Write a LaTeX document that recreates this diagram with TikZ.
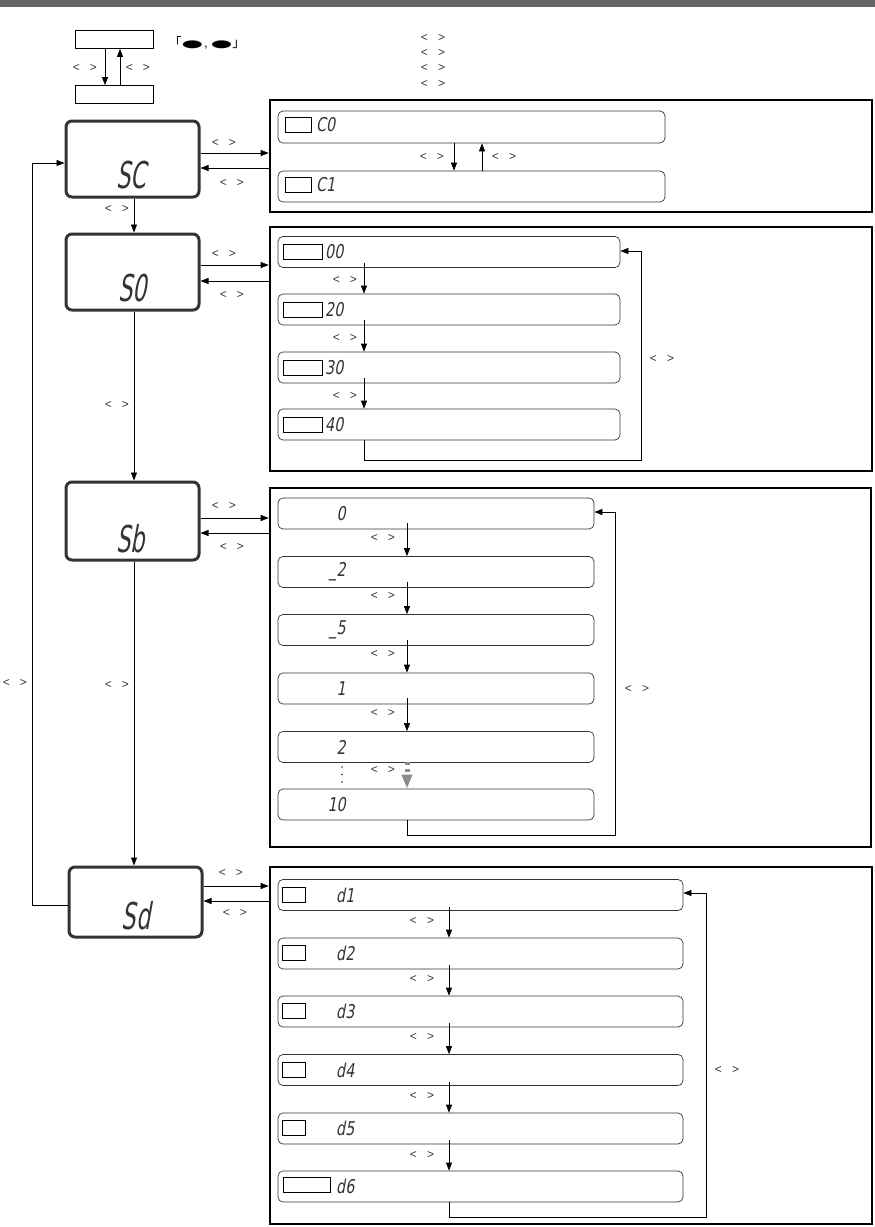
\documentclass[tikz,border=0pt]{standalone}
\usepackage{fontspec}
\setmainfont{Liberation Sans}
\newfontfamily\segbig{DejaVu Sans}[FakeSlant=0.18,FakeStretch=0.6]
\newfontfamily\segsmall{DejaVu Sans}[FakeSlant=0.18,FakeStretch=0.75]
\newfontfamily\cjkjp{Noto Sans CJK JP}
\newfontfamily\dvsans{DejaVu Sans}
\usetikzlibrary{arrows.meta,calc}
\definecolor{barg}{HTML}{666666}
\definecolor{boxg}{HTML}{333333}
\definecolor{dashg}{HTML}{8C8C8C}
\newcommand\myblob{\scalebox{1.9}[0.8]{\dvsans ●}}
\tikzset{
  mbox/.style={draw=boxg, line width=3pt, rounded corners=6pt, inner sep=0pt},
  panelbox/.style={draw=black, line width=2.6pt, inner sep=0pt},
  rowbox/.style={draw=boxg, line width=0.7pt, rounded corners=5pt, inner sep=0pt, minimum height=31pt},
  smallrect/.style={draw=black, line width=0.7pt, inner sep=0pt, minimum height=15pt},
  legbox/.style={draw=black, line width=0.8pt, inner sep=0pt, minimum width=78pt, minimum height=18pt},
  lbl/.style={font=\fontsize{12}{12}\selectfont, text=boxg, inner sep=0pt},
  bigseg/.style={font=\segbig\fontsize{37}{37}\selectfont, text=boxg, inner sep=0pt},
  smallseg/.style={font=\segsmall\fontsize{19}{19}\selectfont, text=boxg, inner sep=0pt},
  arr/.style={draw=black, line width=0.7pt, -{Triangle[length=8pt,width=6pt]}},
  ln/.style={draw=black, line width=0.7pt},
}
\newcommand\lt{<\hspace{10pt}>}
\begin{document}
\begin{tikzpicture}[x=1pt,y=-1pt]
\useasboundingbox (0,0) rectangle (875,1227);
\fill[barg] (0,0) rectangle (875,7);

% legend
\node[legbox] (lg1) at (114,39.5) {};
\node[legbox] (lg2) at (114,94.5) {};
\draw[arr] (lg1.south -| 105,0) -- (lg2.north -| 105,0);
\draw[arr] (lg2.north -| 120,0) -- (lg1.south -| 120,0);
\node[lbl] (lgl1) at (85,68) {\lt};
\node[lbl] (lgl2) at (138,68) {\lt};
\node[font=\fontsize{13}{13}\selectfont, inner sep=0pt] (brk) at (207,43) {{\cjkjp 「}\myblob\hspace{1pt},\hspace{3pt}\myblob{\cjkjp 」}};
\node[lbl] (tl1) at (433,38) {\lt};
\node[lbl] (tl2) at (433,53) {\lt};
\node[lbl] (tl3) at (433,68) {\lt};
\node[lbl] (tl4) at (433,84) {\lt};

% main boxes
\node[mbox, minimum width=133pt, minimum height=76pt] (sc) at (132.5,159) {};
\node[bigseg] (sct) at (131,175.5) {SC};
\node[mbox, minimum width=133pt, minimum height=76pt] (s0) at (132.5,272) {};
\node[bigseg] (s0t) at (133,288) {S0};
\node[mbox, minimum width=133pt, minimum height=78pt] (sb) at (132.5,521) {};
\node[bigseg] (sbt) at (130.5,539) {Sb};
\node[mbox, minimum width=133pt, minimum height=70pt] (sd) at (135.5,902) {};
\node[bigseg] (sdt) at (136,915.5) {Sd};

% panels
\node[panelbox, minimum width=602pt, minimum height=112pt] (p1) at (571,156) {};
\node[panelbox, minimum width=602pt, minimum height=244pt] (p2) at (571,349) {};
\node[panelbox, minimum width=601pt, minimum height=359pt] (p3) at (570.5,667.5) {};
\node[panelbox, minimum width=602pt, minimum height=357pt] (p4) at (571,1045.5) {};

% vertical flow
\draw[arr] (sc.south -| 134,0) -- (s0.north -| 134,0);
\draw[arr] (s0.south -| 134,0) -- (sb.north -| 134,0);
\draw[arr] (sb.south -| 134,0) -- (sd.north -| 134,0);
\node[lbl] (v1) at (117,209) {\lt};
\node[lbl] (v2) at (117,405) {\lt};
\node[lbl] (v3) at (117,685) {\lt};
\draw[arr] (sd.west |- 0,905) -- (32,905) -- (32,163) -- (sc.west |- 0,163);
\node[lbl] (v4) at (15,683) {\lt};

% box <-> panel arrows
\draw[arr] (sc.east |- 0,153) -- (p1.west |- 0,153);
\draw[arr] (p1.west |- 0,168) -- (sc.east |- 0,168);
\node[lbl] (h1) at (224,143) {\lt};
\node[lbl] (h2) at (232,183) {\lt};
\draw[arr] (s0.east |- 0,265) -- (p2.west |- 0,265);
\draw[arr] (p2.west |- 0,281) -- (s0.east |- 0,281);
\node[lbl] (h3) at (224,254) {\lt};
\node[lbl] (h4) at (232,295) {\lt};
\draw[arr] (sb.east |- 0,518) -- (p3.west |- 0,518);
\draw[arr] (p3.west |- 0,533) -- (sb.east |- 0,533);
\node[lbl] (h5) at (224,506) {\lt};
\node[lbl] (h6) at (232,547) {\lt};
\draw[arr] (sd.east |- 0,886) -- (p4.west |- 0,886);
\draw[arr] (p4.west |- 0,901) -- (sd.east |- 0,901);
\node[lbl] (h7) at (231,873) {\lt};
\node[lbl] (h8) at (235,913) {\lt};

% panel 1
\node[rowbox, minimum width=387pt, minimum height=32pt] (c0) at (471.5,127) {};
\node[rowbox, minimum width=387pt] (c1) at (471.5,186.5) {};
\node[smallrect, minimum width=26pt] (c0r) at (298,125) {};
\node[smallrect, minimum width=26pt] (c1r) at (298,185) {};
\node[smallseg, anchor=west] (c0t) at (316,125) {C0};
\node[smallseg, anchor=west] (c1t) at (316,185) {C1};
\draw[arr] (c0.south -| 454,0) -- (c1.north -| 454,0);
\draw[arr] (c1.north -| 482,0) -- (c0.south -| 482,0);
\node[lbl] (c0l) at (432,157) {\lt};
\node[lbl] (c1l) at (504,157) {\lt};

% panel 2
\foreach \n/\t/\y in {r00/00/252, r20/20/309.5, r30/30/367.5, r40/40/424.5}{
  \node[rowbox, minimum width=342pt] (\n) at (449,\y) {};
  \node[smallrect, minimum width=39pt] (\n r) at (302.5,\y) {};
  \node[smallseg, anchor=west] (\n t) at (325,\y) {\t};
}
\draw[arr] ($(r00.south -| 364,0)+(0,-5)$) -- (r20.north -| 364,0);
\draw[arr] ($(r20.south -| 364,0)+(0,-5)$) -- (r30.north -| 364,0);
\draw[arr] ($(r30.south -| 364,0)+(0,-5)$) -- (r40.north -| 364,0);
\node[lbl] (r2l1) at (345,280) {\lt};
\node[lbl] (r2l2) at (345,338) {\lt};
\node[lbl] (r2l3) at (345,396) {\lt};
\draw[arr] (r40.south -| 364,0) -- (364,460) -- (641,460) -- (641,251) -- (r00.east |- 0,251);
\node[lbl] (r2l4) at (662,359) {\lt};

% panel 3
\foreach \n/\t/\y in {q1/0/513.5, q2/\_2/572, q3/\_5/630, q4/1/688.5, q5/2/747, q6/10/804.5}{
  \node[rowbox, minimum width=316pt] (\n) at (436,\y) {};
  \node[smallseg, anchor=east] (\n t) at (346,\y) {\t};
}
\draw[arr] ($(q1.south -| 407,0)+(0,-6)$) -- (q2.north -| 407,0);
\draw[arr] ($(q2.south -| 407,0)+(0,-6)$) -- (q3.north -| 407,0);
\draw[arr] ($(q3.south -| 407,0)+(0,-6)$) -- (q4.north -| 407,0);
\draw[arr] ($(q4.south -| 407,0)+(0,-6)$) -- (q5.north -| 407,0);
\draw[dashg, line width=5pt, dash pattern=on 3pt off 4pt, -{Triangle[length=14pt,width=10pt]}] ($(q5.south -| 407,0)+(0,-1)$) -- (q6.north -| 407,0);
\node[lbl] (q1l) at (383,538) {\lt};
\node[lbl] (q2l) at (383,596) {\lt};
\node[lbl] (q3l) at (383,654) {\lt};
\node[lbl] (q4l) at (383,713) {\lt};
\node[lbl] (q5l) at (383,770) {\lt};
\foreach \yy in {767,774.5,782}{\fill[boxg] (342,\yy) circle (0.8);}
\draw[arr] (q6.south -| 407,0) -- (407,835) -- (615,835) -- (615,512) -- (q1.east |- 0,512);
\node[lbl] (q6l) at (637,689) {\lt};

% panel 4
\foreach \n/\t/\y in {d1/d1/895, d2/d2/953.5, d3/d3/1011.5, d4/d4/1070, d5/d5/1128.5}{
  \node[rowbox, minimum width=405pt] (\n) at (480.5,\y) {};
  \node[smallrect, minimum width=23pt] (\n r) at (293.5,\y-0.5) {};
  \node[smallseg, anchor=west] (\n t) at (336,\y) {\t};
}
\node[rowbox, minimum width=405pt] (d6) at (480.5,1186.5) {};
\node[smallrect, minimum width=47pt] (d6r) at (306.5,1185) {};
\node[smallseg, anchor=west] (d6t) at (336,1186.5) {d6};
\draw[arr] ($(d1.south -| 449,0)+(0,-4)$) -- (d2.north -| 449,0);
\draw[arr] ($(d2.south -| 449,0)+(0,-4)$) -- (d3.north -| 449,0);
\draw[arr] ($(d3.south -| 449,0)+(0,-4)$) -- (d4.north -| 449,0);
\draw[arr] ($(d4.south -| 449,0)+(0,-4)$) -- (d5.north -| 449,0);
\draw[arr] ($(d5.south -| 449,0)+(0,-4)$) -- (d6.north -| 449,0);
\node[lbl] (d1l) at (422,921) {\lt};
\node[lbl] (d2l) at (422,979) {\lt};
\node[lbl] (d3l) at (422,1037) {\lt};
\node[lbl] (d4l) at (422,1096) {\lt};
\node[lbl] (d5l) at (422,1155) {\lt};
\draw[arr] (d6.south -| 449,0) -- (449,1217) -- (706,1217) -- (706,893) -- (d1.east |- 0,893);
\node[lbl] (d6l) at (727,1070) {\lt};
\end{tikzpicture}
\end{document}
